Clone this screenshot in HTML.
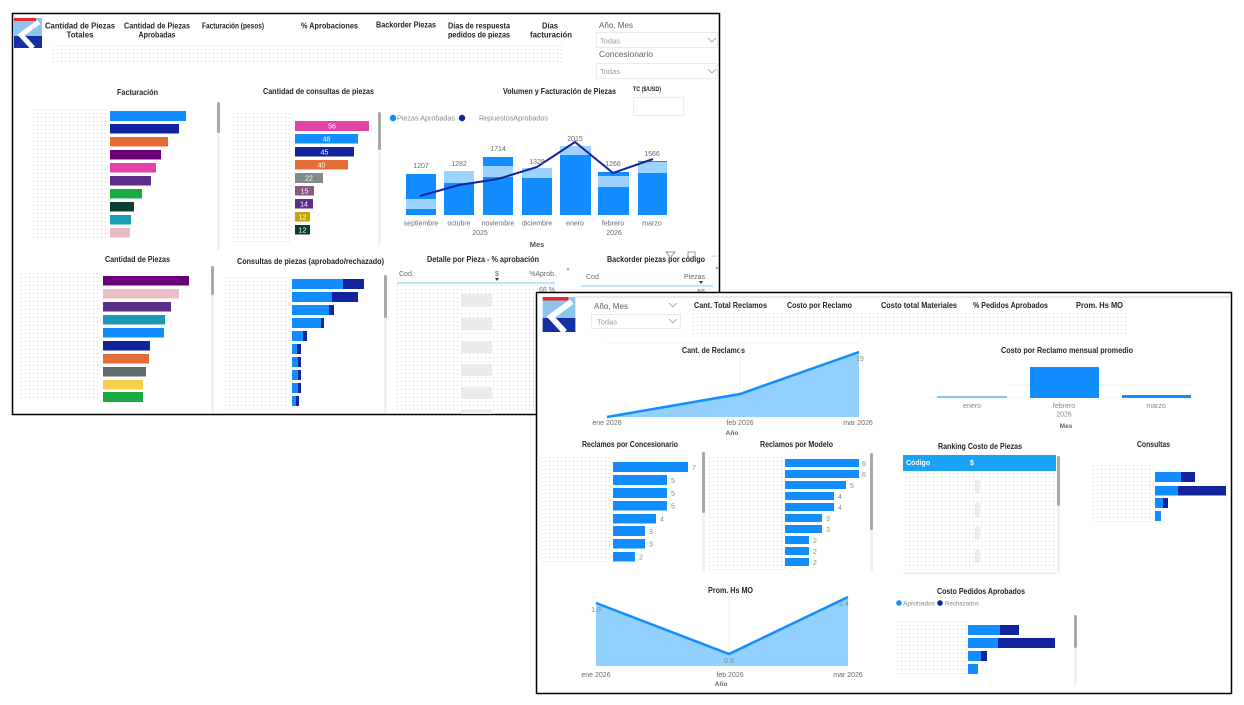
<!DOCTYPE html>
<html><head><meta charset="utf-8">
<style>
html,body{margin:0;padding:0;background:#fff;}
svg{display:block;}
text{font-family:"Liberation Sans",sans-serif;}
.t{font-weight:bold;font-size:8px;fill:#252423;}
.s{font-size:8px;fill:#605E5C;}
.g{font-size:7px;fill:#9a9a9a;}
.l{font-size:7px;fill:#6b6b6b;}
.w{font-size:7px;fill:#fff;}
</style></head><body>
<svg width="1244" height="705" viewBox="0 0 1244 705" xmlns="http://www.w3.org/2000/svg">
<defs>
<pattern id="dots" width="4" height="4" patternUnits="userSpaceOnUse"><rect x="1" y="1" width="1" height="1" fill="#c6d6de"/></pattern>
<symbol id="logo" viewBox="0 0 28 30">
<rect x="0" y="0" width="28" height="30" fill="#8EC5EC"/>
<rect x="0" y="18" width="28" height="12" fill="#1430A3"/>
<polyline points="25,4 7,17 19,30" fill="none" stroke="#fff" stroke-width="5"/>
<rect x="0" y="0" width="22" height="3" fill="#E8262C"/>
</symbol>
</defs>

<!-- ================= PANEL 1 ================= -->
<rect x="12.5" y="13.5" width="707" height="401" fill="#fff" stroke="#000" stroke-width="1.5"/>
<use href="#logo" x="14" y="18" width="28" height="30"/>

<text class="t" x="45" y="28.5" textLength="70" lengthAdjust="spacingAndGlyphs">Cantidad de Piezas</text>
<text class="t" x="66.5" y="37.5" textLength="27" lengthAdjust="spacingAndGlyphs">Totales</text>
<text class="t" x="124" y="28.5" textLength="66" lengthAdjust="spacingAndGlyphs">Cantidad de Piezas</text>
<text class="t" x="138.5" y="37.5" textLength="37" lengthAdjust="spacingAndGlyphs">Aprobadas</text>
<text class="t" x="202" y="28.5" textLength="62" lengthAdjust="spacingAndGlyphs">Facturación (pesos)</text>
<text class="t" x="301" y="28.5" textLength="57" lengthAdjust="spacingAndGlyphs">% Aprobaciones</text>
<text class="t" x="376" y="27.5" textLength="60" lengthAdjust="spacingAndGlyphs">Backorder Piezas</text>
<text class="t" x="448" y="28.5" textLength="62" lengthAdjust="spacingAndGlyphs">Días de respuesta</text>
<text class="t" x="448" y="37.5" textLength="62" lengthAdjust="spacingAndGlyphs">pedidos de piezas</text>
<text class="t" x="542" y="28.5" textLength="16" lengthAdjust="spacingAndGlyphs">Días</text>
<text class="t" x="530" y="37.5" textLength="42" lengthAdjust="spacingAndGlyphs">facturación</text>
<rect x="53" y="42" width="512" height="23" fill="url(#dots)"/>

<!-- slicers -->
<text class="s" x="599" y="28" textLength="34" lengthAdjust="spacingAndGlyphs">Año, Mes</text>
<rect x="596.5" y="32.5" width="121" height="15" fill="#fff" stroke="#ececec"/>
<text class="g" x="600" y="43.5" textLength="20" lengthAdjust="spacingAndGlyphs">Todas</text>
<polyline points="708,38 712,42 716,38" fill="none" stroke="#9a9a9a" stroke-width="0.8"/>
<text class="s" x="599" y="57" textLength="54" lengthAdjust="spacingAndGlyphs">Concesionario</text>
<rect x="596.5" y="63.5" width="121" height="15" fill="#fff" stroke="#ececec"/>
<text class="g" x="600" y="74" textLength="20" lengthAdjust="spacingAndGlyphs">Todas</text>
<polyline points="708,69 712,73 716,69" fill="none" stroke="#9a9a9a" stroke-width="0.8"/>
<text class="t" x="633" y="91" style="font-size:6px" textLength="28" lengthAdjust="spacingAndGlyphs">TC ($/USD)</text>
<rect x="633.5" y="97.5" width="50" height="18" fill="#fff" stroke="#ececec"/>

<!-- Facturación -->
<text class="t" x="117" y="95" textLength="41" lengthAdjust="spacingAndGlyphs">Facturación</text>
<rect x="33" y="108" width="74" height="132" fill="url(#dots)"/>
<rect x="110" y="111" width="76" height="10" fill="#118DFF"/>
<rect x="110" y="124" width="69" height="9.5" fill="#12239E"/>
<rect x="110" y="137" width="58" height="9.5" fill="#E66C37"/>
<rect x="110" y="150" width="51" height="9.5" fill="#6B007B"/>
<rect x="110" y="163" width="46" height="9.5" fill="#E044A7"/>
<rect x="110" y="176" width="41" height="9.5" fill="#5B2E8A"/>
<rect x="110" y="189" width="32" height="9.5" fill="#1AAB40"/>
<rect x="110" y="202" width="24" height="9.5" fill="#0B3D35"/>
<rect x="110" y="215" width="21" height="9.5" fill="#1A9EB8"/>
<rect x="110" y="228" width="20" height="9.5" fill="#EBBBC4"/>
<rect x="217" y="102" width="3" height="148" fill="#f1f1f1"/>
<rect x="217" y="102" width="3" height="31" rx="1.5" fill="#a8a8a8"/>

<!-- Cantidad de consultas de piezas -->
<text class="t" x="263" y="94" textLength="111" lengthAdjust="spacingAndGlyphs">Cantidad de consultas de piezas</text>
<rect x="230" y="110" width="60" height="133" fill="url(#dots)"/>
<rect x="295" y="121" width="74" height="10" fill="#E044A7"/>
<rect x="295" y="134" width="63" height="9.5" fill="#118DFF"/>
<rect x="295" y="147" width="59" height="9.5" fill="#12239E"/>
<rect x="295" y="160" width="53" height="9.5" fill="#E66C37"/>
<rect x="295" y="173" width="28" height="10" fill="#7F8B8C"/>
<rect x="295" y="186" width="19" height="9.5" fill="#8B5A80"/>
<rect x="295" y="199" width="18" height="9.5" fill="#5B2E8A"/>
<rect x="295" y="212" width="15" height="9.5" fill="#C9A30A"/>
<rect x="295" y="225" width="15" height="9.5" fill="#0B3D35"/>
<g text-anchor="middle">
<text class="w" x="332" y="128.5">56</text>
<text class="w" x="326.5" y="141.5">48</text>
<text class="w" x="324.5" y="154.5">45</text>
<text class="w" x="321.5" y="167.5">40</text>
<text class="w" x="309" y="180.5">22</text>
<text class="w" x="304.5" y="193.5">15</text>
<text class="w" x="304" y="206.5">14</text>
<text class="w" x="302.5" y="219.5">12</text>
<text class="w" x="302.5" y="232.5">12</text>
</g>
<rect x="378" y="112" width="3" height="133" fill="#f1f1f1"/>
<rect x="378" y="112" width="3" height="38" rx="1.5" fill="#a8a8a8"/>

<!-- Volumen y Facturación de Piezas -->
<text class="t" x="503" y="94" textLength="113" lengthAdjust="spacingAndGlyphs">Volumen y Facturación de Piezas</text>
<circle cx="393" cy="118" r="3.2" fill="#118DFF"/>
<text class="l" x="397" y="120.5" style="fill:#8a8a8a" textLength="58" lengthAdjust="spacingAndGlyphs">Piezas Aprobadas</text>
<circle cx="462" cy="118" r="3.2" fill="#12239E"/>
<text class="l" x="479" y="120.5" style="fill:#8a8a8a" textLength="69" lengthAdjust="spacingAndGlyphs">RepuestosAprobados</text>
<g fill="#118DFF">
<rect x="406" y="174" width="30" height="41"/>
<rect x="444" y="171" width="30" height="44"/>
<rect x="483" y="157" width="30" height="58"/>
<rect x="522" y="168" width="30" height="47"/>
<rect x="560" y="146" width="31" height="69"/>
<rect x="598" y="172" width="31" height="43"/>
<rect x="638" y="161" width="29" height="54"/>
</g>
<g fill="#9CD3FF">
<rect x="406" y="199" width="30" height="10"/>
<rect x="444" y="171" width="30" height="12"/>
<rect x="483" y="166" width="30" height="11"/>
<rect x="522" y="168" width="30" height="10"/>
<rect x="560" y="146" width="31" height="9"/>
<rect x="598" y="176" width="31" height="11"/>
<rect x="638" y="162" width="29" height="11"/>
</g>
<polyline points="420,196 459,185 498,179 537,167 575,142 613,173 653,159" fill="none" stroke="#12239E" stroke-width="2"/>
<g text-anchor="middle">
<text x="421" y="168" class="l">1207</text>
<text x="459" y="166" class="l">1282</text>
<text x="498" y="151" class="l">1714</text>
<text x="537" y="164" class="l">1328</text>
<text x="575" y="141" class="l">2015</text>
<text x="613" y="166" class="l">1266</text>
<text x="652" y="156" class="l">1566</text>
<text x="421" y="225.5" class="l">septiembre</text>
<text x="459" y="225.5" class="l">octubre</text>
<text x="498" y="225.5" class="l">noviembre</text>
<text x="537" y="225.5" class="l">diciembre</text>
<text x="575" y="225.5" class="l">enero</text>
<text x="613" y="225.5" class="l">febrero</text>
<text x="652" y="225.5" class="l">marzo</text>
<text x="480" y="235" class="l">2025</text>
<text x="614" y="235" class="l">2026</text>
</g>
<text x="537" y="247" text-anchor="middle" style="font-size:7.5px;font-weight:bold;fill:#555">Mes</text>

<!-- Cantidad de Piezas -->
<text class="t" x="105" y="262" textLength="65" lengthAdjust="spacingAndGlyphs">Cantidad de Piezas</text>
<rect x="21" y="270" width="79" height="130" fill="url(#dots)"/>
<rect x="103" y="276" width="86" height="9.5" fill="#6B007B"/>
<rect x="103" y="289" width="76" height="9.5" fill="#E8BFC4"/>
<rect x="103" y="302" width="68" height="9.5" fill="#5B2E8A"/>
<rect x="103" y="315" width="62" height="9.5" fill="#1C9AB3"/>
<rect x="103" y="328" width="61" height="9.5" fill="#118DFF"/>
<rect x="103" y="341" width="47" height="9.5" fill="#12239E"/>
<rect x="103" y="354" width="46" height="9.5" fill="#E66C37"/>
<rect x="103" y="367" width="43" height="9.5" fill="#5F6B6D"/>
<rect x="103" y="380" width="40" height="9.5" fill="#F5D04B"/>
<rect x="103" y="392" width="40" height="10" fill="#1AAB40"/>
<rect x="211" y="266" width="3" height="147" fill="#f1f1f1"/>
<rect x="211" y="266" width="3" height="29" rx="1.5" fill="#a8a8a8"/>

<!-- Consultas de piezas (aprobado/rechazado) -->
<text class="t" x="237" y="264" textLength="147" lengthAdjust="spacingAndGlyphs">Consultas de piezas (aprobado/rechazado)</text>
<rect x="223" y="277" width="64" height="135" fill="url(#dots)"/>
<g fill="#12239E">
<rect x="292" y="279" width="72" height="10"/>
<rect x="292" y="292" width="66" height="10"/>
<rect x="292" y="305" width="42" height="10"/>
<rect x="292" y="318" width="32" height="10"/>
<rect x="292" y="331" width="15" height="10"/>
<rect x="292" y="344" width="9" height="10"/>
<rect x="292" y="357" width="9" height="10"/>
<rect x="292" y="370" width="9" height="10"/>
<rect x="292" y="383" width="9" height="10"/>
<rect x="292" y="396" width="7" height="10"/>
</g>
<g fill="#118DFF">
<rect x="292" y="279" width="51" height="10"/>
<rect x="292" y="292" width="40" height="10"/>
<rect x="292" y="305" width="37" height="10"/>
<rect x="292" y="318" width="29" height="10"/>
<rect x="292" y="331" width="11" height="10"/>
<rect x="292" y="344" width="5" height="10"/>
<rect x="292" y="357" width="6" height="10"/>
<rect x="292" y="370" width="6" height="10"/>
<rect x="292" y="383" width="6" height="10"/>
<rect x="292" y="396" width="4" height="10"/>
</g>
<rect x="384" y="275" width="3" height="138" fill="#f1f1f1"/>
<rect x="384" y="275" width="3" height="43" rx="1.5" fill="#a8a8a8"/>

<!-- Detalle por Pieza -->
<text class="t" x="427" y="262" textLength="112" lengthAdjust="spacingAndGlyphs">Detalle por Pieza - % aprobación</text>
<text class="l" x="399" y="276">Cod.</text>
<text class="l" x="495" y="276">$</text>
<polygon points="495,278 499,278 497,281" fill="#333"/>
<text class="l" x="556" y="276" text-anchor="end">%Aprob.</text>
<circle cx="568" cy="269" r="1.3" fill="#aaa"/>
<line x1="397" y1="283" x2="555" y2="283" stroke="#9CD3FF" stroke-width="1.2"/>
<text class="l" x="555" y="292" text-anchor="end">68 %</text>
<rect x="395" y="285" width="160" height="129" fill="url(#dots)"/>
<g fill="#ebebeb">
<rect x="461" y="294" width="31" height="13"/>
<rect x="461" y="318" width="31" height="12"/>
<rect x="461" y="341" width="31" height="12"/>
<rect x="461" y="364" width="31" height="12"/>
<rect x="461" y="387" width="31" height="12"/>
<rect x="461" y="410" width="31" height="4"/>
</g>

<!-- Backorder -->
<text class="t" x="607" y="262" textLength="98" lengthAdjust="spacingAndGlyphs">Backorder piezas por código</text>
<path d="M666,252 h9 l-3.5,4 v3 h-2 v-3 z" fill="none" stroke="#777" stroke-width="0.7"/>
<rect x="688" y="252" width="7" height="6" fill="none" stroke="#777" stroke-width="0.7"/>
<text x="711" y="258" style="font-size:7px;fill:#555">···</text>
<text class="l" x="586" y="279">Cod.</text>
<text class="l" x="705" y="279" text-anchor="end">Piezas</text>
<polygon points="699,281 703,281 701,284" fill="#333"/>
<circle cx="717" cy="268" r="1.3" fill="#aaa"/>
<line x1="581" y1="286" x2="713" y2="286" stroke="#9CD3FF" stroke-width="1.2"/>
<text class="l" x="705" y="294" text-anchor="end">66</text>
<rect x="583" y="288" width="130" height="6" fill="url(#dots)"/>

<!-- ================= PANEL 2 ================= -->
<rect x="536.5" y="292.5" width="695" height="401" fill="#fff" stroke="#000" stroke-width="1.5"/>
<line x1="576" y1="297" x2="1230" y2="297" stroke="#e4e4e4" stroke-width="1.5"/>
<use href="#logo" x="542" y="297" width="34" height="35"/>

<text class="s" x="594" y="309" textLength="34" lengthAdjust="spacingAndGlyphs">Año, Mes</text>
<polyline points="669,303 673,307 677,303" fill="none" stroke="#9a9a9a" stroke-width="0.8"/>
<rect x="591.5" y="314.5" width="89" height="14" fill="#fff" stroke="#ececec"/>
<text class="g" x="597" y="324.5" textLength="20" lengthAdjust="spacingAndGlyphs">Todas</text>
<polyline points="669,319 673,323 677,319" fill="none" stroke="#9a9a9a" stroke-width="0.8"/>

<text class="t" x="694" y="308" textLength="73" lengthAdjust="spacingAndGlyphs">Cant. Total Reclamos</text>
<text class="t" x="787" y="308" textLength="65" lengthAdjust="spacingAndGlyphs">Costo por Reclamo</text>
<text class="t" x="881" y="308" textLength="76" lengthAdjust="spacingAndGlyphs">Costo total Materiales</text>
<text class="t" x="973" y="308" textLength="75" lengthAdjust="spacingAndGlyphs">% Pedidos Aprobados</text>
<text class="t" x="1076" y="308" textLength="47" lengthAdjust="spacingAndGlyphs">Prom. Hs MO</text>
<rect x="690" y="312" width="436" height="25" fill="url(#dots)"/>

<!-- Cant. de Reclamos -->
<text class="t" x="682" y="353" textLength="63" lengthAdjust="spacingAndGlyphs">Cant. de Reclamos</text>
<line x1="607" y1="343" x2="859" y2="343" stroke="#f0f0f0"/>
<line x1="740" y1="343" x2="740" y2="417" stroke="#f0f0f0"/>
<polygon points="607,417 740,394 859,352 859,417" fill="#91D0FF"/>
<polyline points="607,417 740,394 859,352" fill="none" stroke="#118DFF" stroke-width="2.5"/>
<text class="l" x="856" y="361" style="fill:#888">19</text>
<g text-anchor="middle">
<text class="l" x="607" y="425">ene 2026</text>
<text class="l" x="740" y="425">feb 2026</text>
<text class="l" x="858" y="425">mar 2026</text>
<text x="732" y="435" style="font-size:6.5px;font-weight:bold;fill:#666">Año</text>
</g>

<!-- Costo por Reclamo mensual promedio -->
<text class="t" x="1001" y="353" textLength="132" lengthAdjust="spacingAndGlyphs">Costo por Reclamo mensual promedio</text>
<line x1="1009" y1="385" x2="1192" y2="385" stroke="#f0f0f0"/>
<line x1="927" y1="398" x2="1195" y2="398" stroke="#f4f4f4"/>
<rect x="937" y="396" width="70" height="2" fill="#7FC6FF"/>
<rect x="1030" y="367" width="69" height="31" fill="#118DFF"/>
<rect x="1122" y="395" width="69" height="3" fill="#118DFF"/>
<g text-anchor="middle">
<text class="l" x="972" y="408" style="fill:#888">enero</text>
<text class="l" x="1064" y="408" style="fill:#888">febrero</text>
<text class="l" x="1156" y="408" style="fill:#888">marzo</text>
<text class="l" x="1064" y="416.5" style="fill:#888">2026</text>
<text x="1066" y="428" style="font-size:6.5px;font-weight:bold;fill:#666">Mes</text>
</g>

<!-- Reclamos por Concesionario -->
<text class="t" x="582" y="447" textLength="96" lengthAdjust="spacingAndGlyphs">Reclamos por Concesionario</text>
<rect x="537" y="455" width="73" height="108" fill="url(#dots)"/>
<g fill="#118DFF">
<rect x="613" y="462" width="75" height="10"/>
<rect x="613" y="475" width="54" height="10"/>
<rect x="613" y="488" width="54" height="10"/>
<rect x="613" y="501" width="54" height="9.5"/>
<rect x="613" y="514" width="43" height="9.5"/>
<rect x="613" y="526" width="32" height="10"/>
<rect x="613" y="539" width="32" height="9.5"/>
<rect x="613" y="552" width="22" height="9.5"/>
</g>
<text class="l" x="692" y="470" style="fill:#888">7</text>
<text class="l" x="671" y="483" style="fill:#888">5</text>
<text class="l" x="671" y="496" style="fill:#888">5</text>
<text class="l" x="671" y="508.5" style="fill:#888">5</text>
<text class="l" x="660" y="521.5" style="fill:#888">4</text>
<text class="l" x="649" y="534" style="fill:#888">3</text>
<text class="l" x="649" y="546.5" style="fill:#888">3</text>
<text class="l" x="639" y="559.5" style="fill:#888">2</text>
<rect x="702" y="452" width="3" height="120" fill="#f1f1f1"/>
<rect x="702" y="452" width="3" height="61" rx="1.5" fill="#a8a8a8"/>

<!-- Reclamos por Modelo -->
<text class="t" x="760" y="447" textLength="73" lengthAdjust="spacingAndGlyphs">Reclamos por Modelo</text>
<rect x="708" y="456" width="75" height="114" fill="url(#dots)"/>
<g fill="#118DFF">
<rect x="785" y="459" width="74" height="8"/>
<rect x="785" y="470" width="74" height="8"/>
<rect x="785" y="481" width="61" height="8"/>
<rect x="785" y="492" width="49" height="8"/>
<rect x="785" y="503" width="49" height="8"/>
<rect x="785" y="514" width="37" height="8"/>
<rect x="785" y="525" width="37" height="8"/>
<rect x="785" y="536" width="24" height="8"/>
<rect x="785" y="547" width="24" height="8"/>
<rect x="785" y="558" width="24" height="8"/>
</g>
<text class="l" x="862" y="466" style="fill:#888">6</text>
<text class="l" x="862" y="477" style="fill:#888">6</text>
<text class="l" x="850" y="488" style="fill:#888">5</text>
<text class="l" x="838" y="499" style="fill:#888">4</text>
<text class="l" x="838" y="510" style="fill:#888">4</text>
<text class="l" x="826" y="521" style="fill:#888">3</text>
<text class="l" x="826" y="532" style="fill:#888">3</text>
<text class="l" x="813" y="543" style="fill:#888">2</text>
<text class="l" x="813" y="554" style="fill:#888">2</text>
<text class="l" x="813" y="565" style="fill:#888">2</text>
<rect x="870" y="453" width="3" height="119" fill="#f1f1f1"/>
<rect x="870" y="453" width="3" height="77" rx="1.5" fill="#a8a8a8"/>

<!-- Ranking Costo de Piezas -->
<text class="t" x="938" y="449" textLength="84" lengthAdjust="spacingAndGlyphs">Ranking Costo de Piezas</text>
<rect x="903" y="455" width="153" height="16" fill="#1AA3F5"/>
<text x="906" y="465" style="font-size:7px;font-weight:bold;fill:#fff">Código</text>
<text x="970" y="465" style="font-size:7px;font-weight:bold;fill:#fff">$</text>
<rect x="903" y="471" width="153" height="102" fill="url(#dots)"/>
<line x1="903" y1="573.5" x2="1056" y2="573.5" stroke="#dce8ee"/>
<g fill="#ececec">
<rect x="975" y="480" width="5" height="13"/>
<rect x="975" y="503" width="5" height="14"/>
<rect x="975" y="527" width="5" height="13"/>
<rect x="975" y="550" width="5" height="13"/>
</g>
<rect x="1057" y="456" width="3" height="117" fill="#f1f1f1"/>
<rect x="1057" y="456" width="3" height="50" rx="1.5" fill="#a8a8a8"/>

<!-- Consultas -->
<text class="t" x="1137" y="447" textLength="33" lengthAdjust="spacingAndGlyphs">Consultas</text>
<rect x="1093" y="465" width="60" height="58" fill="url(#dots)"/>
<rect x="1155" y="472" width="40" height="10" fill="#12239E"/>
<rect x="1155" y="472" width="26" height="10" fill="#118DFF"/>
<rect x="1155" y="486" width="71" height="9.5" fill="#12239E"/>
<rect x="1155" y="486" width="23" height="9.5" fill="#118DFF"/>
<rect x="1155" y="498" width="13" height="10" fill="#12239E"/>
<rect x="1155" y="498" width="8" height="10" fill="#118DFF"/>
<rect x="1155" y="511" width="6" height="10" fill="#118DFF"/>

<!-- Prom. Hs MO -->
<text class="t" x="708" y="593" textLength="45" lengthAdjust="spacingAndGlyphs">Prom. Hs MO</text>
<line x1="729" y1="597" x2="729" y2="666" stroke="#eeeeee"/>
<polygon points="596,603 729,654 848,597 848,666 596,666" fill="#91D0FF"/>
<polyline points="596,603 729,654 848,597" fill="none" stroke="#118DFF" stroke-width="2.5"/>
<g text-anchor="middle">
<text class="l" x="596" y="612" style="fill:#888">1.3</text>
<text class="l" x="729" y="663" style="fill:#888">0.9</text>
<text class="l" x="844" y="606" style="fill:#888">1.4</text>
<text class="l" x="596" y="677">ene 2026</text>
<text class="l" x="730" y="677">feb 2026</text>
<text class="l" x="848" y="677">mar 2026</text>
<text x="721" y="686" style="font-size:6.5px;font-weight:bold;fill:#666">Año</text>
</g>

<!-- Costo Pedidos Aprobados -->
<text class="t" x="937" y="594" textLength="88" lengthAdjust="spacingAndGlyphs">Costo Pedidos Aprobados</text>
<circle cx="899" cy="603" r="2.8" fill="#118DFF"/>
<text x="903" y="605.5" style="font-size:6.5px;fill:#888" textLength="32" lengthAdjust="spacingAndGlyphs">Aprobados</text>
<circle cx="940" cy="603" r="2.8" fill="#12239E"/>
<text x="945" y="605.5" style="font-size:6.5px;fill:#888" textLength="34" lengthAdjust="spacingAndGlyphs">Rechazados</text>
<rect x="896" y="618" width="73" height="57" fill="url(#dots)"/>
<rect x="968" y="625" width="51" height="10" fill="#12239E"/>
<rect x="968" y="625" width="32" height="10" fill="#118DFF"/>
<rect x="968" y="638" width="87" height="10" fill="#12239E"/>
<rect x="968" y="638" width="30" height="10" fill="#118DFF"/>
<rect x="968" y="651" width="19" height="10" fill="#12239E"/>
<rect x="968" y="651" width="13" height="10" fill="#118DFF"/>
<rect x="968" y="664" width="10" height="10" fill="#118DFF"/>
<rect x="1074" y="615" width="3" height="70" fill="#f1f1f1"/>
<rect x="1074" y="615" width="3" height="33" rx="1.5" fill="#a8a8a8"/>
</svg>
</body></html>
